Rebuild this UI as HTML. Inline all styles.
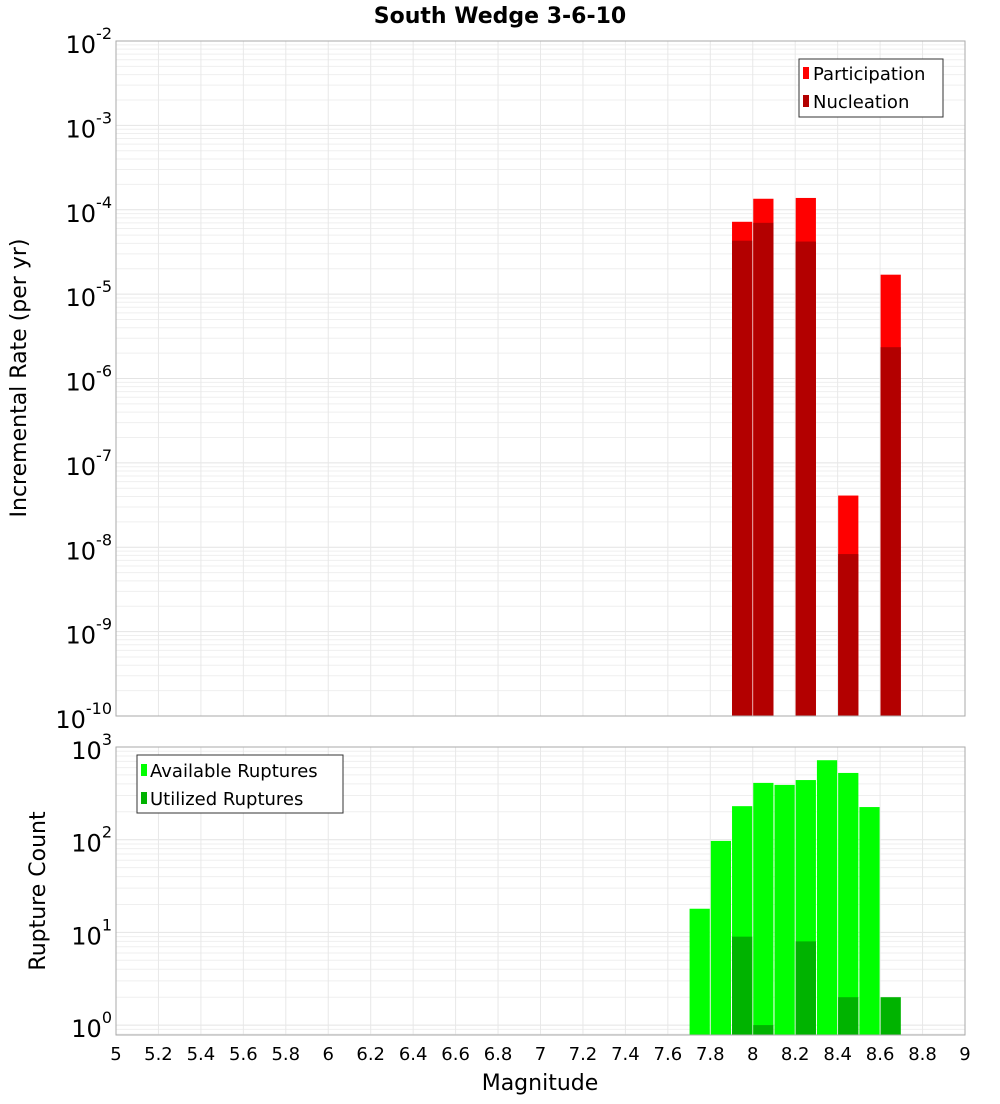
<!DOCTYPE html>
<html><head><meta charset="utf-8"><style>
body{margin:0;background:#fff;font-family:"DejaVu Sans","Liberation Sans",sans-serif}
svg text{font-family:"DejaVu Sans","Liberation Sans",sans-serif}
</style></head><body>
<svg id="c" width="1000" height="1100" xmlns="http://www.w3.org/2000/svg"></svg>
<script>
const binsTop=[7.95,8.05,8.25,8.45,8.65];
const participation=[7.2e-5,1.35e-4,1.38e-4,4.1e-8,1.7e-5];
const nucleation=[4.3e-5,7.0e-5,4.2e-5,8.3e-9,2.35e-6];
const binsBot=[7.75,7.85,7.95,8.05,8.15,8.25,8.35,8.45,8.55,8.65];
const available=[18,97,230,410,390,440,720,525,225,0];
const utilized=[0,0,9,1,0,8,0,2,0,2];
const xTicks=[5,5.2,5.4,5.6,5.8,6,6.2,6.4,6.6,6.8,7,7.2,7.4,7.6,7.8,8,8.2,8.4,8.6,8.8,9];
const xTickLabels=["5","5.2","5.4","5.6","5.8","6","6.2","6.4","6.6","6.8","7","7.2","7.4","7.6","7.8","8","8.2","8.4","8.6","8.8","9"];
const topExps=[-2,-3,-4,-5,-6,-7,-8,-9,-10];
const botExps=[3,2,1,0];

const svg=document.getElementById('c');
const NS='http://www.w3.org/2000/svg';
function mk(t,a,p){const e=document.createElementNS(NS,t);for(const k in a)e.setAttribute(k,a[k]);(p||svg).appendChild(e);return e;}
const X0=116,X1=965;
const x=v=>X0+(v-5)/4*(X1-X0);
const T0=41,T1=716;
const yT=v=>T0+(-2-Math.log10(v))/8*(T1-T0);
const B0=747,B1=1035,BD=92.7;
const yB=v=>Math.min(B1,B0+(3-Math.log10(v))*BD);

function grid(top,bot,yf,lo,hi){
  const g=mk('g',{});
  
  for(let e=lo;e<hi;e++)for(let m=1;m<10;m++){const yy=yf(m*Math.pow(10,e));if(yy<top||yy>bot)continue;
    mk('line',{x1:X0,x2:X1,y1:yy,y2:yy,stroke:m==1?'#e4e4e4':'#efefef','stroke-width':1},g);}
  xTicks.forEach(t=>mk('line',{x1:x(t),x2:x(t),y1:top,y2:bot,stroke:'#e8e8e8'},g));
}
// title
let t=mk('text',{x:500,y:23,'text-anchor':'middle','font-size':22,'font-weight':'bold'});t.textContent='South Wedge 3-6-10';


// top panel
grid(T0,T1,yT,-10,-1);
binsTop.forEach((b,i)=>{
  let r=mk('rect',{x:x(b-0.05)+0.5,width:x(0.1+5)-X0-1,y:yT(participation[i]),height:T1-yT(participation[i]),fill:'#ff0000'});
  
  r=mk('rect',{x:x(b-0.05)+0.5,width:x(0.1+5)-X0-1,y:yT(nucleation[i]),height:T1-yT(nucleation[i]),fill:'#b30000'});
  
});
mk('rect',{x:X0,y:T0,width:X1-X0,height:T1-T0,fill:'none',stroke:'#aaa'});
topExps.forEach(e=>{const yy=yT(Math.pow(10,e));
  const tx=mk('text',{x:112,y:yy+12,'text-anchor':'end','font-size':24});
  
  tx.innerHTML='10<tspan dy="-14" font-size="16">'+e+'</tspan>';});
t=mk('text',{x:0,y:0,transform:'translate(26,378) rotate(-90)','text-anchor':'middle','font-size':22});t.textContent='Incremental Rate (per yr)';

// legend top
let lg=mk('g',{});
mk('rect',{x:799,y:59,width:144,height:58,fill:'#fff',stroke:'#333'},lg);
mk('rect',{x:803,y:67,width:6,height:12,fill:'#ff0000'},lg);
mk('rect',{x:803,y:95,width:6,height:12,fill:'#b30000'},lg);
t=mk('text',{x:813,y:80,'font-size':18},lg);t.textContent='Participation';
t=mk('text',{x:813,y:108,'font-size':18},lg);t.textContent='Nucleation';

// bottom panel
grid(B0,B1,yB,-1,3);
binsBot.forEach((b,i)=>{
  if(available[i]>0){let r=mk('rect',{x:x(b-0.05)+0.5,width:x(5.1)-X0-1,y:yB(available[i]),height:B1-yB(available[i]),fill:'#00ff00'});
  }
  if(utilized[i]>0){let r=mk('rect',{x:x(b-0.05)+0.5,width:x(5.1)-X0-1,y:yB(utilized[i]),height:B1-yB(utilized[i]),fill:'#00b300'});
  }
});
mk('rect',{x:X0,y:B0,width:X1-X0,height:B1-B0,fill:'none',stroke:'#aaa'});
botExps.forEach(e=>{const yy=B0+(3-e)*BD;
  const tx=mk('text',{x:112,y:yy+12,'text-anchor':'end','font-size':24});
  
  tx.innerHTML='10<tspan dy="-14" font-size="16">'+e+'</tspan>';});
t=mk('text',{x:0,y:0,transform:'translate(45,891) rotate(-90)','text-anchor':'middle','font-size':22});t.textContent='Rupture Count';

lg=mk('g',{});
mk('rect',{x:137,y:755,width:206,height:58,fill:'#fff',stroke:'#333'},lg);
mk('rect',{x:141,y:764,width:6,height:12,fill:'#00ff00'},lg);
mk('rect',{x:141,y:792,width:6,height:12,fill:'#00b300'},lg);
t=mk('text',{x:150,y:777,'font-size':18},lg);t.textContent='Available Ruptures';
t=mk('text',{x:150,y:805,'font-size':18},lg);t.textContent='Utilized Ruptures';

xTicks.forEach((v,i)=>{const tx=mk('text',{x:x(v),y:1060,'text-anchor':'middle','font-size':18});tx.textContent=xTickLabels[i];
  });
t=mk('text',{x:540,y:1090,'text-anchor':'middle','font-size':22});t.textContent='Magnitude';

</script>
</body></html>
